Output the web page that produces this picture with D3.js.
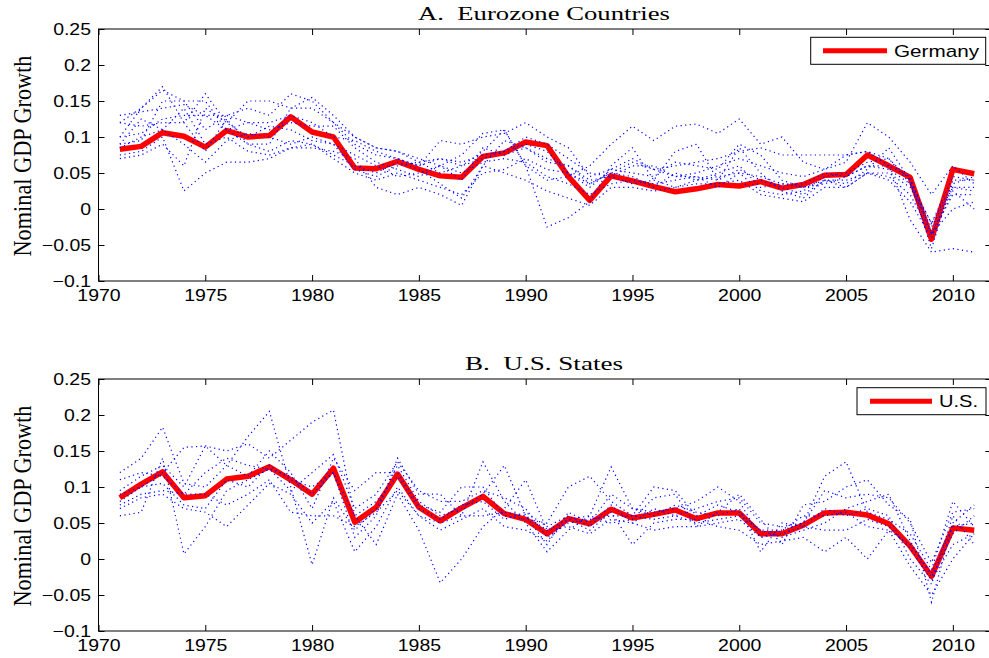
<!DOCTYPE html>
<html>
<head>
<meta charset="utf-8">
<script src="https://cdn.jsdelivr.net/npm/d3@7"></script>
<style>
  html, body { margin: 0; padding: 0; background: #fff; }
  svg { display: block; }
</style>
</head>
<body>
<svg id="chart" width="989" height="658"></svg>
<script>
// ---------------- DATA ----------------
const years = d3.range(1971, 2012);
const xTickValues = [1970, 1975, 1980, 1985, 1990, 1995, 2000, 2005, 2010];
const yTickValues = [-0.1, -0.05, 0, 0.05, 0.1, 0.15, 0.2, 0.25];

const germany = [0.083,0.087,0.106,0.101,0.086,0.109,0.100,0.102,0.128,0.107,0.100,0.057,0.056,0.066,0.055,0.046,0.044,0.073,0.078,0.093,0.088,0.045,0.012,0.046,0.039,0.031,0.024,0.028,0.034,0.032,0.038,0.029,0.034,0.047,0.048,0.075,0.060,0.044,-0.042,0.055,0.049];
const us = [0.085,0.104,0.121,0.085,0.088,0.111,0.115,0.128,0.110,0.090,0.126,0.051,0.072,0.118,0.072,0.053,0.071,0.087,0.063,0.055,0.035,0.056,0.049,0.069,0.057,0.062,0.068,0.056,0.064,0.064,0.035,0.035,0.047,0.064,0.065,0.061,0.049,0.018,-0.024,0.043,0.040];

// Eurozone countries (dotted)
const ezA = [0.120,0.140,0.170,0.120,0.160,0.120,0.150,0.150,0.140,0.155,0.130,0.100,0.085,0.080,0.065,0.050,0.060,0.080,0.110,0.060,0.040,0.045,0.060,0.090,0.115,0.095,0.115,0.118,0.105,0.125,0.090,0.100,0.065,0.055,0.075,0.080,0.060,-0.015,-0.060,-0.055,-0.060];
const ezB = [0.100,0.140,0.165,0.150,0.150,0.110,0.090,0.090,0.140,0.140,0.120,0.100,0.085,0.080,0.070,0.060,0.075,0.105,0.110,0.060,-0.025,-0.012,0.010,0.060,0.085,0.040,0.080,0.090,0.040,0.085,0.050,0.025,0.015,0.040,0.035,0.055,0.085,0.040,-0.055,0.040,0.040];
const ezC = [0.130,0.135,0.140,0.145,0.130,0.130,0.120,0.120,0.130,0.120,0.100,0.095,0.080,0.070,0.060,0.095,0.090,0.100,0.105,0.120,0.100,0.085,0.045,0.055,0.070,0.055,0.060,0.065,0.070,0.080,0.085,0.075,0.075,0.075,0.075,0.080,0.070,0.035,-0.035,0.000,0.010];
const ezD = [0.090,0.095,0.150,0.150,0.110,0.130,0.140,0.130,0.160,0.150,0.120,0.090,0.075,0.070,0.060,0.070,0.065,0.075,0.080,0.090,0.080,0.050,0.035,0.050,0.065,0.055,0.045,0.045,0.030,0.050,0.045,0.035,0.030,0.040,0.030,0.050,0.045,0.020,-0.035,0.020,0.020];
const ezE = [0.100,0.105,0.125,0.130,0.130,0.110,0.120,0.110,0.120,0.115,0.115,0.085,0.065,0.055,0.045,0.060,0.050,0.065,0.070,0.065,0.045,0.035,0.020,0.035,0.040,0.035,0.040,0.045,0.040,0.055,0.040,0.030,0.020,0.040,0.040,0.050,0.050,0.030,-0.025,0.030,0.030];
const ezF = [0.120,0.115,0.120,0.120,0.080,0.125,0.090,0.080,0.095,0.090,0.070,0.050,0.040,0.050,0.040,0.030,0.020,0.050,0.055,0.070,0.055,0.050,0.030,0.055,0.050,0.045,0.065,0.060,0.055,0.090,0.075,0.040,0.030,0.035,0.045,0.060,0.060,0.045,-0.035,0.030,0.025];
const ezG = [0.085,0.100,0.110,0.140,0.090,0.100,0.080,0.075,0.085,0.090,0.075,0.060,0.050,0.065,0.055,0.035,0.015,0.060,0.095,0.085,0.065,0.060,0.035,0.050,0.045,0.030,0.050,0.040,0.050,0.060,0.030,0.035,0.035,0.050,0.045,0.060,0.055,0.035,-0.020,0.045,0.040];
const ezH = [0.090,0.125,0.110,0.090,0.065,0.095,0.105,0.100,0.090,0.100,0.090,0.075,0.060,0.045,0.050,0.060,0.040,0.085,0.075,0.085,0.070,0.060,0.040,0.045,0.035,0.040,0.030,0.040,0.045,0.050,0.025,0.020,0.025,0.045,0.050,0.065,0.070,0.040,-0.020,0.035,0.045];
const ezI = [0.075,0.080,0.100,0.025,0.050,0.065,0.065,0.070,0.085,0.085,0.080,0.070,0.030,0.020,0.030,0.020,0.005,0.060,0.050,0.040,0.025,0.015,0.005,0.030,0.030,0.025,0.030,0.035,0.035,0.040,0.020,0.015,0.010,0.030,0.030,0.050,0.040,0.010,-0.040,0.025,0.000];
const ezJ = [0.070,0.075,0.090,0.060,0.140,0.120,0.100,0.115,0.110,0.095,0.090,0.055,0.045,0.060,0.065,0.070,0.060,0.070,0.080,0.100,0.090,0.070,0.050,0.045,0.060,0.060,0.045,0.050,0.060,0.070,0.060,0.050,0.045,0.055,0.065,0.120,0.100,0.065,0.020,0.060,0.035];

// U.S. states (dotted)
const stA = [0.080,0.100,0.120,0.155,0.157,0.150,0.160,0.140,0.165,0.190,0.207,0.060,0.020,0.090,0.040,-0.033,0.000,0.045,0.070,0.110,0.040,0.055,0.060,0.050,0.055,0.085,0.090,0.045,0.065,0.090,0.055,0.020,0.075,0.080,0.100,0.110,0.075,0.055,-0.060,0.050,0.075];
const stB = [0.120,0.140,0.183,0.105,0.100,0.130,0.170,0.205,0.100,-0.008,0.085,0.040,0.070,0.130,0.080,0.060,0.070,0.090,0.130,0.060,0.020,0.065,0.050,0.090,0.070,0.065,0.070,0.080,0.100,0.080,0.030,0.040,0.050,0.115,0.135,0.065,0.055,0.035,-0.015,0.080,0.045];
const stC = [0.060,0.065,0.140,0.007,0.045,0.095,0.110,0.125,0.115,0.090,0.120,0.030,0.060,0.140,0.090,0.090,0.060,0.135,0.080,0.050,0.010,0.040,0.060,0.128,0.070,0.060,0.075,0.065,0.060,0.070,0.010,0.050,0.045,0.070,0.060,0.070,0.060,0.000,-0.035,0.060,0.020];
const stD = [0.095,0.115,0.130,0.100,0.157,0.130,0.115,0.150,0.120,0.070,0.140,0.095,0.120,0.120,0.075,0.065,0.100,0.100,0.060,0.055,0.050,0.100,0.115,0.080,0.060,0.100,0.095,0.060,0.075,0.065,0.040,0.030,0.040,0.050,0.070,0.080,0.090,0.025,-0.025,0.035,0.060];
const stE = [0.070,0.085,0.090,0.070,0.065,0.045,0.075,0.105,0.090,0.050,0.080,0.010,0.045,0.100,0.060,0.040,0.055,0.070,0.045,0.040,0.025,0.055,0.040,0.065,0.020,0.050,0.055,0.055,0.045,0.040,0.020,0.025,0.030,0.010,0.030,0.000,0.040,-0.010,-0.050,0.000,0.035];
const stF = [0.090,0.100,0.105,0.075,0.070,0.110,0.100,0.130,0.110,0.100,0.120,0.060,0.080,0.115,0.070,0.055,0.075,0.080,0.055,0.065,0.045,0.060,0.045,0.075,0.050,0.070,0.060,0.050,0.055,0.060,0.040,0.040,0.060,0.060,0.065,0.045,0.040,0.020,-0.020,0.045,0.050];
const stG = [0.110,0.120,0.115,0.090,0.120,0.140,0.130,0.125,0.095,0.120,0.145,0.070,0.090,0.135,0.095,0.080,0.080,0.095,0.085,0.070,0.030,0.050,0.055,0.060,0.060,0.055,0.060,0.070,0.080,0.085,0.050,0.045,0.050,0.095,0.085,0.090,0.085,0.050,-0.005,0.065,0.070];
const stH = [0.075,0.090,0.095,0.090,0.090,0.075,0.090,0.110,0.065,0.060,0.060,0.045,0.065,0.095,0.060,0.050,0.060,0.060,0.065,0.060,0.040,0.045,0.035,0.055,0.050,0.040,0.045,0.045,0.050,0.055,0.030,0.035,0.045,0.040,0.040,0.055,0.045,0.015,-0.030,0.020,0.035];

const panels = [
  { title: "A.  Eurozone Countries", titleLen: 252, legend: "Germany", main: germany,
    dotted: [ezA, ezB, ezC, ezD, ezE, ezF, ezG, ezH, ezI, ezJ],
    top: 29, bottom: 281, titleY: 20, legendBox: [810.7, 37.3, 175, 27], legendLine: [823, 887], legendText: 894, legendTextLen: 85 },
  { title: "B.  U.S. States", titleLen: 158, legend: "U.S.", main: us,
    dotted: [stA, stB, stC, stD, stE, stF, stG, stH],
    top: 379, bottom: 631, titleY: 370, legendBox: [857, 387.7, 129, 27], legendLine: [870, 932], legendText: 939, legendTextLen: 39 }
];

// ---------------- DRAW ----------------
const svg = d3.select("#chart");
const left = 98.5, right = 991.3;
const x = d3.scaleLinear().domain([1970, 2011.8]).range([left, right]);
const SX = 1.18; // horizontal stretch of the reference's text
const tickFont = "'Liberation Sans', Arial, Helvetica, sans-serif";
const serif = "'Liberation Serif', 'Times New Roman', serif";

panels.forEach(p => {
  const y = d3.scaleLinear().domain([-0.1, 0.25]).range([p.bottom, p.top]);
  const g = svg.append("g");

  // title
  g.append("text")
    .attr("x", 544).attr("y", p.titleY)
    .attr("text-anchor", "middle")
    .attr("textLength", p.titleLen).attr("lengthAdjust", "spacingAndGlyphs")
    .style("white-space", "pre")
    .style("font-family", serif).style("font-size", "19.5px").attr("fill", "#000")
    .text(p.title);

  // y label
  const cy = (p.top + p.bottom) / 2 + 1;
  g.append("text")
    .attr("transform", `translate(31,${cy}) scale(${SX},1) rotate(-90)`)
    .attr("text-anchor", "middle")
    .attr("textLength", 201).attr("lengthAdjust", "spacingAndGlyphs")
    .style("font-family", serif).style("font-size", "21px").attr("fill", "#000")
    .text("Nominal GDP Growth");

  // clip
  const clipId = "clip" + p.top;
  svg.append("clipPath").attr("id", clipId)
    .append("rect").attr("x", left).attr("y", p.top).attr("width", right - left).attr("height", p.bottom - p.top);

  const line = d3.line().x((d, i) => x(years[i])).y(d => y(d));
  const plot = g.append("g").attr("clip-path", `url(#${clipId})`);

  // main red series
  plot.append("path")
    .datum(p.main)
    .attr("d", line)
    .attr("fill", "none").attr("stroke", "#ff0000")
    .attr("stroke-width", 5.5).attr("stroke-linejoin", "round").attr("stroke-linecap", "butt");

  // dotted series
  plot.selectAll("path.dot")
    .data(p.dotted).enter().append("path")
    .attr("class", "dot")
    .attr("d", line)
    .attr("fill", "none").attr("stroke", "#0000ff")
    .attr("stroke-width", 1.2).attr("stroke-dasharray", "1.2,3.4");

  // axes
  const axB = d3.axisBottom(x).tickValues(xTickValues).tickSize(-6).tickSizeOuter(0).tickPadding(8.5).tickFormat(d3.format("d"));
  const axT = d3.axisTop(x).tickValues(xTickValues).tickSize(-6).tickSizeOuter(0).tickFormat("");
  const axL = d3.axisLeft(y).tickValues(yTickValues).tickSize(-6).tickSizeOuter(0).tickPadding(7.5).tickFormat(d3.format("~g"));
  const axR = d3.axisRight(y).tickValues(yTickValues).tickSize(-6).tickSizeOuter(0).tickFormat("");

  const gB = g.append("g").attr("transform", `translate(0,${p.bottom})`).call(axB);
  const gT = g.append("g").attr("transform", `translate(0,${p.top})`).call(axT);
  const gL = g.append("g").attr("transform", `translate(${left},0)`).call(axL);
  const gR = g.append("g").attr("transform", `translate(${right},0)`).call(axR);
  [gB, gT, gL, gR].forEach(a => {
    a.select(".domain").remove();
    a.selectAll(".tick line").attr("stroke", "#000").attr("stroke-width", 1);
    a.selectAll("text").style("font-family", tickFont).style("font-size", "16.5px").attr("fill", "#000");
  });
  gB.selectAll(".tick text").attr("transform", `scale(${SX},1)`);
  gL.selectAll(".tick text").attr("x", -7.5 / SX).attr("transform", `scale(${SX},1)`);

  // frame
  g.append("rect")
    .attr("x", left).attr("y", p.top).attr("width", right - left).attr("height", p.bottom - p.top)
    .attr("fill", "none").attr("stroke", "#000").attr("stroke-width", 1);

  // legend
  const [lx, ly, lw, lh] = p.legendBox;
  const lg = g.append("g");
  lg.append("rect").attr("x", lx).attr("y", ly).attr("width", lw).attr("height", lh)
    .attr("fill", "#fff").attr("stroke", "#000").attr("stroke-width", 1);
  const lyMid = ly + lh / 2;
  lg.append("line").attr("x1", p.legendLine[0]).attr("x2", p.legendLine[1])
    .attr("y1", lyMid).attr("y2", lyMid)
    .attr("stroke", "#ff0000").attr("stroke-width", 5);
  lg.append("text").attr("x", p.legendText).attr("y", lyMid + 6.2)
    .attr("textLength", p.legendTextLen).attr("lengthAdjust", "spacingAndGlyphs")
    .style("font-family", tickFont).style("font-size", "17px").attr("fill", "#000")
    .text(p.legend);
});
</script>
</body>
</html>
